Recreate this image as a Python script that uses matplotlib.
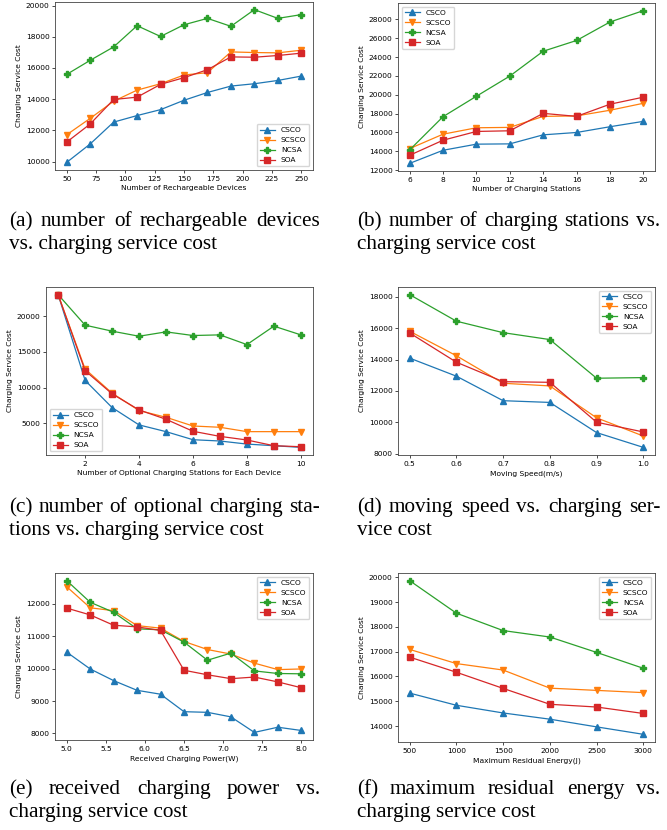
import numpy as np
import matplotlib
matplotlib.use("Agg")
import matplotlib.pyplot as plt
from matplotlib.transforms import IdentityTransform

# ---- data ----
names = ["CSCO", "SCSCO", "NCSA", "SOA"]
markers = ["^", "v", "P", "s"]

devices = [50, 70, 90, 110, 130, 150, 170, 190, 210, 230, 250]
dev_csco = [9950, 11130, 12530, 12950, 13330, 13930, 14430, 14840, 14990, 15200, 15480]
dev_scsco = [11720, 12770, 13870, 14580, 14990, 15550, 15700, 17030, 16990, 16970, 17140]
dev_ncsa = [15590, 16490, 17350, 18710, 18020, 18770, 19180, 18670, 19740, 19180, 19420]
dev_soa = [11250, 12410, 13980, 14130, 14950, 15380, 15890, 16710, 16690, 16800, 16950]

stations = [6, 8, 10, 12, 14, 16, 18, 20]
st_csco = [12710, 14100, 14750, 14780, 15740, 15990, 16600, 17170]
st_scsco = [14280, 15810, 16490, 16530, 17700, 17750, 18350, 19090]
st_ncsa = [14140, 17670, 19840, 21980, 24620, 25760, 27720, 28930]
st_soa = [13570, 15170, 16100, 16170, 18020, 17700, 18990, 19740]

optional = [1, 2, 3, 4, 5, 6, 7, 8, 9, 10]
op_csco = [23000, 11000, 7200, 4770, 3830, 2700, 2520, 2090, 1860, 1630]
op_scsco = [23000, 12590, 9220, 6780, 5840, 4620, 4440, 3830, 3830, 3830]
op_ncsa = [23000, 18730, 17890, 17180, 17790, 17280, 17370, 16010, 18590, 17370]
op_soa = [23000, 12360, 9120, 6870, 5560, 3880, 3170, 2660, 1860, 1720]

speed = [0.5, 0.6, 0.7, 0.8, 0.9, 1.0]
sp_csco = [14090, 12940, 11380, 11270, 9350, 8410]
sp_scsco = [15800, 14240, 12490, 12320, 10290, 9130]
sp_ncsa = [18130, 16440, 15710, 15270, 12810, 12850]
sp_soa = [15690, 13830, 12590, 12550, 10010, 9390]

power = [5.0, 5.3, 5.6, 5.9, 6.2, 6.5, 6.8, 7.1, 7.4, 7.7, 8.0]
pw_csco = [10510, 9990, 9630, 9330, 9210, 8670, 8650, 8510, 8030, 8190, 8090]
pw_scsco = [12530, 11880, 11790, 11330, 11250, 10840, 10590, 10450, 10170, 9970, 9990]
pw_ncsa = [12720, 12050, 11740, 11230, 11200, 10820, 10260, 10480, 9930, 9850, 9840]
pw_soa = [11870, 11660, 11340, 11290, 11180, 9950, 9810, 9690, 9740, 9590, 9410]

energy = [500, 1000, 1500, 2000, 2500, 3000]
en_csco = [15330, 14840, 14530, 14280, 13970, 13670]
en_scsco = [17090, 16520, 16260, 15530, 15440, 15350]
en_ncsa = [19860, 18550, 17850, 17590, 16970, 16330]
en_soa = [16780, 16170, 15520, 14880, 14770, 14510]

plt.rcParams["font.size"] = 5.4
plt.rcParams["axes.linewidth"] = 0.6
plt.rcParams["axes.edgecolor"] = "#444444"
plt.rcParams["xtick.major.size"] = 2
plt.rcParams["ytick.major.size"] = 2
plt.rcParams["xtick.major.width"] = 0.5
plt.rcParams["ytick.major.width"] = 0.5
plt.rcParams["xtick.major.pad"] = 2
plt.rcParams["ytick.major.pad"] = 2
plt.rcParams["axes.labelpad"] = 2.5

W, H = 667, 830
fig = plt.figure(figsize=(W / 100, H / 100), dpi=100)


def add_ax(left, top, right, bottom):
    return fig.add_axes([left / W, (H - bottom) / H, (right - left) / W, (bottom - top) / H])


panels = [
    (add_ax(55, 2, 313, 170), devices, [dev_csco, dev_scsco, dev_ncsa, dev_soa],
     "Number of Rechargeable Devices", "lower right",
     np.arange(50, 251, 25), np.arange(10000, 20001, 2000)),
    (add_ax(398, 3, 655, 171), stations, [st_csco, st_scsco, st_ncsa, st_soa],
     "Number of Charging Stations", "upper left",
     np.arange(6, 21, 2), np.arange(12000, 28001, 2000)),
    (add_ax(46, 287, 313, 455), optional, [op_csco, op_scsco, op_ncsa, op_soa],
     "Number of Optional Charging Stations for Each Device", "lower left",
     np.arange(2, 11, 2), np.arange(5000, 20001, 5000)),
    (add_ax(398, 287, 655, 455), speed, [sp_csco, sp_scsco, sp_ncsa, sp_soa],
     "Moving Speed(m/s)", "upper right",
     [0.5, 0.6, 0.7, 0.8, 0.9, 1.0], np.arange(8000, 18001, 2000)),
    (add_ax(55, 573, 313, 740), power, [pw_csco, pw_scsco, pw_ncsa, pw_soa],
     "Received Charging Power(W)", "upper right",
     np.arange(5.0, 8.01, 0.5), np.arange(8000, 12001, 1000)),
    (add_ax(398, 573, 655, 742), energy, [en_csco, en_scsco, en_ncsa, en_soa],
     "Maximum Residual Energy(J)", "upper right",
     np.arange(500, 3001, 500), np.arange(14000, 20001, 1000)),
]

for ax, x, series, xlabel, loc, xt, yt in panels:
    for name, mk, y in zip(names, markers, series):
        ms = 4.6 if mk == "P" else 4.0
        ax.plot(x, y, marker=mk, markersize=ms, linewidth=0.9, label=name)
    ax.set_xticks(xt)
    ax.set_yticks(yt)
    ax.set_xlabel(xlabel)
    ax.set_ylabel("Charging Service Cost")
    ax.legend(loc=loc)

# ---- captions (justified first line, like the paper) ----
renderer = fig.canvas.get_renderer()
cap_font = dict(family="Liberation Serif", fontsize=15.3, color="black")


def caption_line(text, x0, x1, y, justify):
    words = text.split()
    if not justify:
        fig.text(x0, H - y, text, transform=IdentityTransform(), va="baseline", **cap_font)
        return
    objs = [fig.text(0, H - y, w, transform=IdentityTransform(), va="baseline", **cap_font) for w in words]
    widths = [o.get_window_extent(renderer).width for o in objs]
    gap = (x1 - x0 - sum(widths)) / (len(words) - 1)
    xpos = x0
    for o, w in zip(objs, widths):
        o.set_x(xpos)
        xpos += w + gap


captions = [
    ("(a) number of rechargeable devices", "vs. charging service cost", 9, 320, 226),
    ("(b) number of charging stations vs.", "charging service cost", 357, 660, 226),
    ("(c) number of optional charging sta-", "tions vs. charging service cost", 9, 320, 512),
    ("(d) moving speed vs. charging ser-", "vice cost", 357, 660, 512),
    ("(e) received charging power vs.", "charging service cost", 9, 320, 794),
    ("(f) maximum residual energy vs.", "charging service cost", 357, 660, 794),
]
for l1, l2, x0, x1, y in captions:
    caption_line(l1, x0, x1, y, True)
    caption_line(l2, x0, x1, y + 23, False)

fig.savefig("out.png", dpi=100)
